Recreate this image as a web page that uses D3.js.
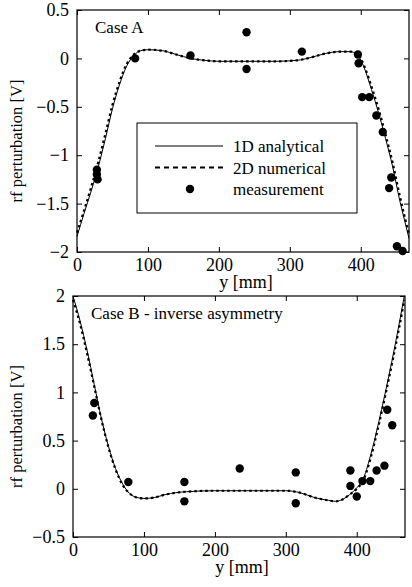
<!DOCTYPE html>
<html lang="en">
<head>
  <meta charset="UTF-8" />
  <title>rf perturbation - Case A / Case B</title>
  <script src="https://cdn.jsdelivr.net/npm/d3@7"></script>
  <style>
    body {
      margin: 0;
      background: white;
    }

    svg text {
      font-family: "Liberation Serif", "DejaVu Serif", serif;
      fill: black;
    }

    .frame {
      fill: none;
      stroke: black;
      stroke-width: 1.2;
    }

    .axis path {
      display: none;
    }

    .axis line {
      stroke: black;
    }

    .axis text {
      font-size: 18px;
    }
  </style>
</head>
<body>
  <div id="chart"></div>

  <script>
    // Case A curves (y in mm, perturbation in V)
    const curveYA = [0, 10, 20, 30, 40, 50, 60, 70, 80, 90, 100, 120, 140, 160, 180, 200, 240, 280, 310, 330, 350, 370, 385, 395, 405, 415, 425, 435, 445, 455, 462, 468];
    const analyticA = [-1.84, -1.6, -1.37, -1.12, -0.83, -0.52, -0.27, -0.08, 0.03, 0.08, 0.09, 0.08, 0.04, 0.0, -0.02, -0.03, -0.03, -0.03, -0.02, 0.01, 0.05, 0.07, 0.07, 0.04, -0.1, -0.32, -0.56, -0.83, -1.12, -1.47, -1.68, -1.86];
    const numericA = [-1.8, -1.57, -1.33, -1.07, -0.78, -0.48, -0.24, -0.06, 0.04, 0.08, 0.09, 0.08, 0.04, 0.0, -0.02, -0.03, -0.03, -0.03, -0.02, 0.01, 0.05, 0.07, 0.07, 0.05, -0.08, -0.29, -0.52, -0.79, -1.08, -1.42, -1.64, -1.82];

    // Case A measurements
    const measYA = [28, 28, 29, 82, 160, 239, 239, 317, 396, 397, 402, 412, 422, 431, 443, 440, 451, 459];
    const measVA = [-1.15, -1.2, -1.25, 0.0, 0.03, 0.27, -0.11, 0.07, 0.04, -0.05, -0.4, -0.4, -0.59, -0.76, -1.23, -1.34, -1.94, -1.99];

    // Case B curves
    const curveYB = [0, 10, 20, 30, 40, 50, 60, 70, 80, 90, 100, 115, 130, 160, 200, 250, 300, 320, 340, 360, 370, 380, 390, 400, 410, 420, 430, 440, 450, 460, 467];
    const analyticB = [2.0, 1.74, 1.43, 1.08, 0.73, 0.44, 0.21, 0.05, -0.05, -0.09, -0.1, -0.09, -0.06, -0.03, -0.02, -0.02, -0.02, -0.04, -0.09, -0.12, -0.13, -0.11, -0.06, 0.01, 0.12, 0.36, 0.66, 0.99, 1.34, 1.72, 2.0];
    const numericB = [1.96, 1.71, 1.4, 1.06, 0.72, 0.43, 0.2, 0.04, -0.05, -0.09, -0.1, -0.09, -0.06, -0.03, -0.02, -0.02, -0.02, -0.04, -0.09, -0.12, -0.13, -0.11, -0.06, 0.0, 0.1, 0.33, 0.63, 0.96, 1.31, 1.68, 1.96];

    // Case B measurements
    const measYB = [30, 28, 78, 157, 157, 235, 314, 314, 391, 391, 400, 408, 419, 428, 439, 443, 450];
    const measVB = [0.89, 0.76, 0.07, 0.07, -0.13, 0.21, 0.17, -0.15, 0.19, 0.03, -0.08, 0.08, 0.08, 0.19, 0.24, 0.82, 0.66];

    const xTicks = [0, 100, 200, 300, 400];
    const yTicksA = [0.5, 0, -0.5, -1, -1.5, -2];
    const yTicksB = [2, 1.5, 1, 0.5, 0, -0.5];

    const legendLabels = ["1D analytical", "2D numerical", "measurement"];

    const width = 412;
    const height = 587;

    const svg = d3.select("#chart")
      .append("svg")
      .attr("width", width)
      .attr("height", height);

    function drawPanel(opt) {
      const x = d3.scaleLinear().domain([0, 468]).range([opt.left, opt.right]);
      const y = d3.scaleLinear().domain(opt.yDomain).range([opt.bottom, opt.top]);

      const g = svg.append("g");

      // frame
      g.append("rect")
        .attr("class", "frame")
        .attr("x", opt.left)
        .attr("y", opt.top)
        .attr("width", opt.right - opt.left)
        .attr("height", opt.bottom - opt.top);

      // inward ticks on all four sides
      g.append("g")
        .attr("class", "axis")
        .attr("transform", `translate(0, ${opt.bottom})`)
        .call(d3.axisBottom(x).tickValues(xTicks).tickSize(-5).tickPadding(6).tickFormat(d3.format("d")));

      g.append("g")
        .attr("class", "axis")
        .attr("transform", `translate(0, ${opt.top})`)
        .call(d3.axisTop(x).tickValues(xTicks).tickSize(-5).tickFormat(""));

      g.append("g")
        .attr("class", "axis")
        .attr("transform", `translate(${opt.left}, 0)`)
        .call(d3.axisLeft(y).tickValues(opt.yTicks).tickSize(-5).tickPadding(8).tickFormat(d3.format("")));

      g.append("g")
        .attr("class", "axis")
        .attr("transform", `translate(${opt.right}, 0)`)
        .call(d3.axisRight(y).tickValues(opt.yTicks).tickSize(-5).tickFormat(""));

      const line = d3.line()
        .x((d, i) => x(opt.curveY[i]))
        .y(d => y(d))
        .curve(d3.curveMonotoneX);

      g.append("path")
        .datum(opt.analytic)
        .attr("fill", "none")
        .attr("stroke", "black")
        .attr("stroke-width", 1)
        .attr("d", line);

      g.append("path")
        .datum(opt.numeric)
        .attr("fill", "none")
        .attr("stroke", "black")
        .attr("stroke-width", 2.2)
        .attr("stroke-dasharray", "2.5,3")
        .attr("d", line);

      g.selectAll(".dot")
        .data(opt.measV)
        .enter()
        .append("circle")
        .attr("cx", (d, i) => x(opt.measY[i]))
        .attr("cy", d => y(d))
        .attr("r", 4.2)
        .attr("fill", "black");

      // titles
      g.append("text")
        .attr("x", opt.left + 18)
        .attr("y", opt.top + 23)
        .style("font-size", "17px")
        .text(opt.title);

      g.append("text")
        .attr("x", (opt.left + opt.right) / 2 + 3)
        .attr("y", opt.bottom + 36)
        .attr("text-anchor", "middle")
        .style("font-size", "18px")
        .text("y [mm]");

      g.append("text")
        .attr("transform", `translate(22, ${(opt.top + opt.bottom) / 2 + 10}) rotate(-90)`)
        .attr("text-anchor", "middle")
        .style("font-size", "16.5px")
        .text("rf perturbation [V]");

      return { g, x, y };
    }

    drawPanel({
      left: 77, right: 409, top: 10, bottom: 252,
      yDomain: [-2, 0.5], yTicks: yTicksA,
      curveY: curveYA, analytic: analyticA, numeric: numericA,
      measY: measYA, measV: measVA,
      title: "Case A"
    });

    drawPanel({
      left: 73, right: 405, top: 296, bottom: 537,
      yDomain: [-0.5, 2], yTicks: yTicksB,
      curveY: curveYB, analytic: analyticB, numeric: numericB,
      measY: measYB, measV: measVB,
      title: "Case B - inverse asymmetry"
    });

    // Legend in Case A
    const legend = svg.append("g").attr("transform", "translate(137, 123)");

    legend.append("rect")
      .attr("width", 220)
      .attr("height", 90)
      .attr("fill", "white")
      .attr("stroke", "black")
      .attr("stroke-width", 1);

    legendLabels.forEach((label, i) => {
      const ly = 23 + i * 21.5;
      if (i === 0) {
        legend.append("line")
          .attr("x1", 18).attr("x2", 86)
          .attr("y1", ly).attr("y2", ly)
          .attr("stroke", "black").attr("stroke-width", 1);
      } else if (i === 1) {
        legend.append("line")
          .attr("x1", 18).attr("x2", 86)
          .attr("y1", ly).attr("y2", ly)
          .attr("stroke", "black").attr("stroke-width", 2.2)
          .attr("stroke-dasharray", "5,4");
      } else {
        legend.append("circle")
          .attr("cx", 53).attr("cy", ly)
          .attr("r", 4.2).attr("fill", "black");
      }
      legend.append("text")
        .attr("x", 96)
        .attr("y", ly + 6)
        .style("font-size", "17px")
        .text(label);
    });
  </script>
</body>
</html>
